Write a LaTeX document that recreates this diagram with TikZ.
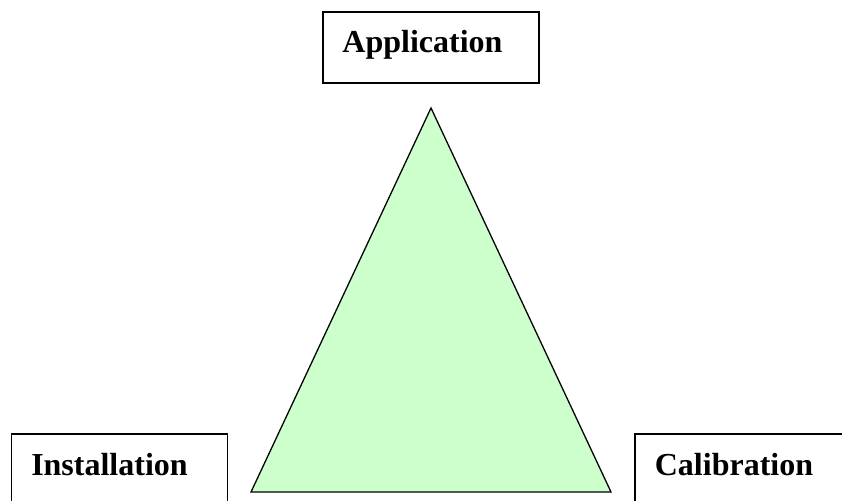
\documentclass[tikz,border=0pt]{standalone}
\usepackage{fontspec}
\setmainfont{Liberation Serif}
\begin{document}
\begin{tikzpicture}[x=1pt,y=-1pt,
  box/.style={draw=black,line width=1.3pt,minimum width=216pt,minimum height=71pt,inner sep=0pt},
  lbl/.style={font=\fontsize{32}{36}\selectfont\bfseries,anchor=base,inner sep=0pt}]
\useasboundingbox (0,0) rectangle (842,500);
\fill[white] (0,0) rectangle (842,500);
\node[box] (app) at (431,47.5) {};
\node[box] (inst) at (119.5,469.5) {};
\node[box] (cal) at (743,469.5) {};
\node[lbl] (appt) at (422.5,53) {Application};
\node[lbl] (instt) at (109.5,475) {Installation};
\node[lbl] (calt) at (734,475) {Calibration};
\coordinate (top) at (431,108);
\coordinate (bl) at (251,492);
\coordinate (br) at (611,492);
\draw[line width=1.3pt,fill={rgb,255:red,204;green,255;blue,204},line join=miter] (top) -- (bl) -- (br) -- cycle;
\end{tikzpicture}
\end{document}
